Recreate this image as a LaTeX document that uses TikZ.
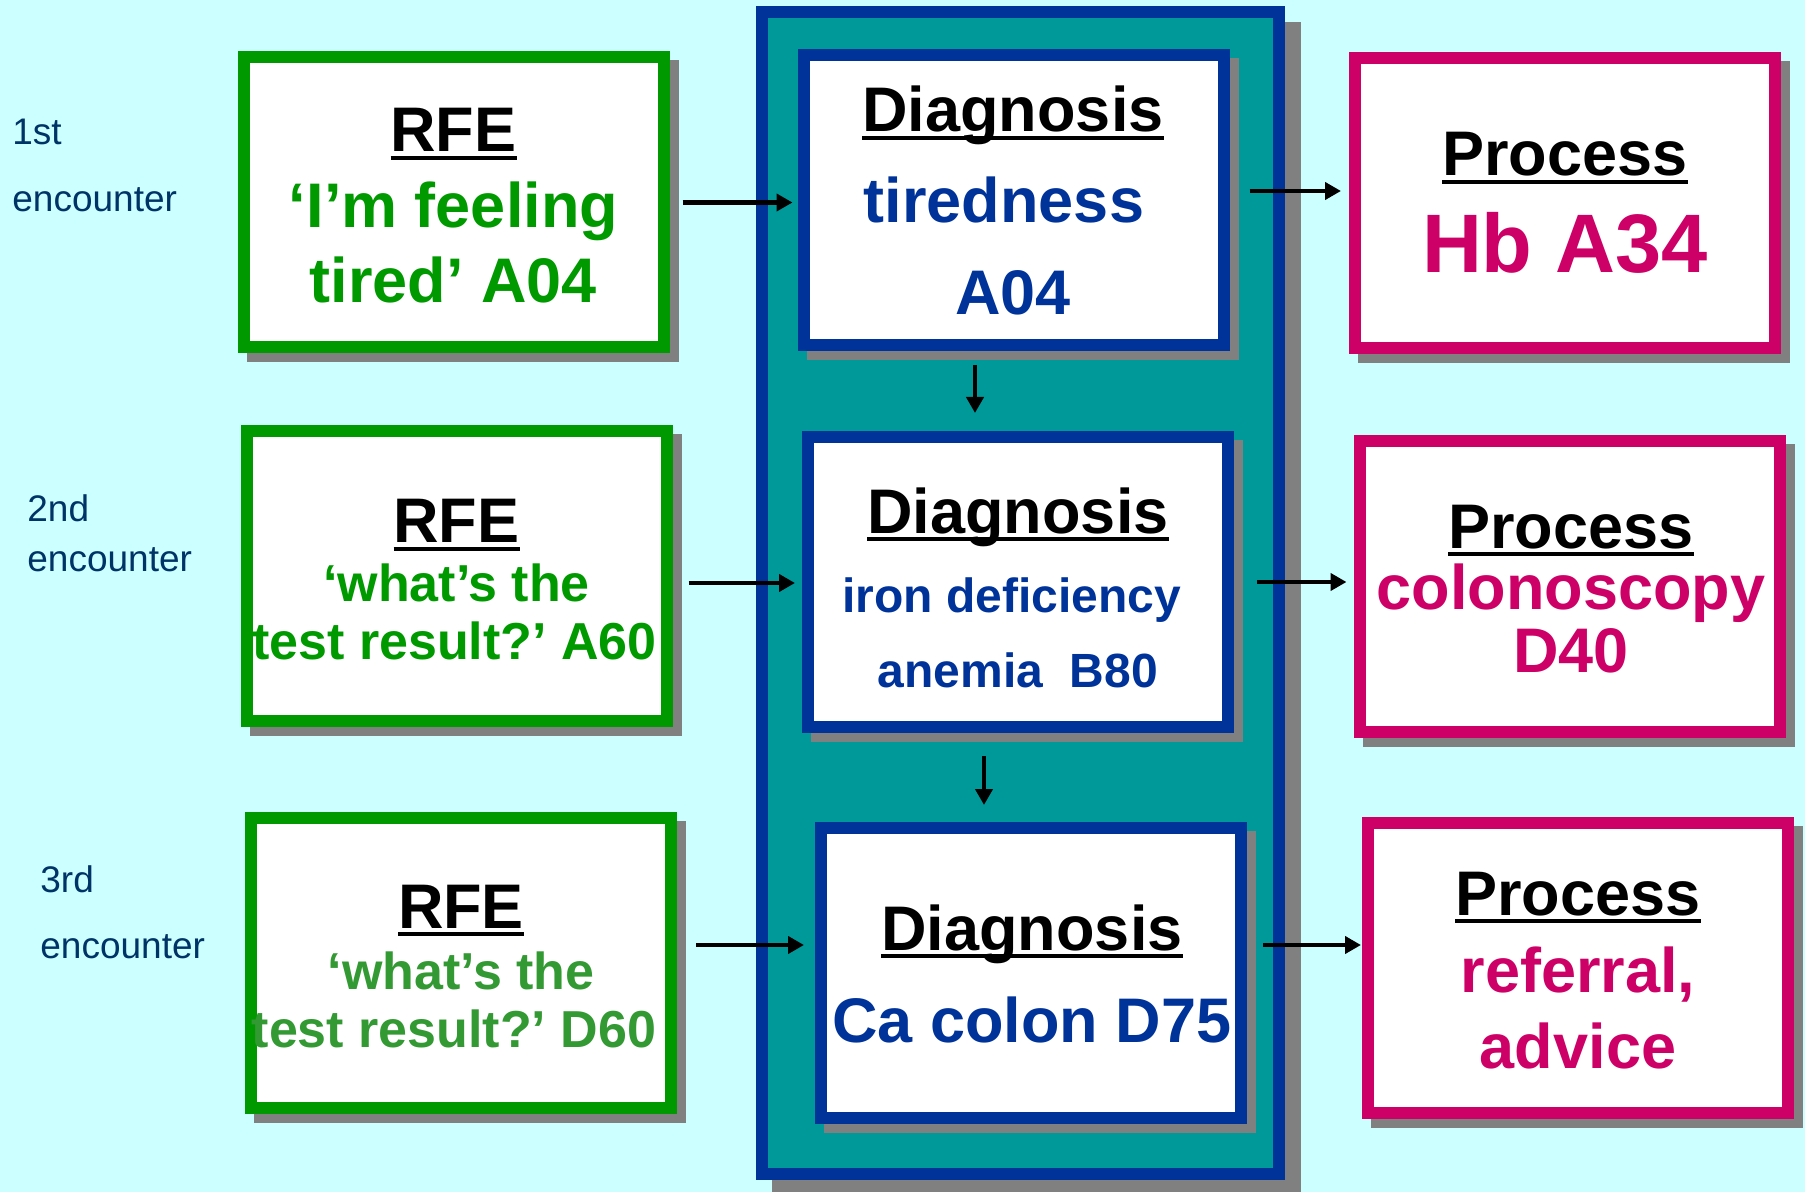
\documentclass[tikz,border=0pt]{standalone}
\usepackage{fontspec}
\setmainfont{Liberation Sans}
\usetikzlibrary{arrows.meta}
\definecolor{cBg}{HTML}{CCFFFF}
\definecolor{cGreen}{HTML}{009900}
\definecolor{cGreenB}{HTML}{339933}
\definecolor{cBlue}{HTML}{003399}
\definecolor{cTeal}{HTML}{009999}
\definecolor{cMag}{HTML}{CC0066}
\definecolor{cShadow}{HTML}{808080}
\definecolor{cNavy}{HTML}{003366}
\newsavebox\ulbox
\newcommand\myul[1]{\sbox\ulbox{#1}\rlap{\rule[-4pt]{\wd\ulbox}{2pt}}\usebox\ulbox}
\newcommand\myfs[1]{\fontsize{#1}{#1}\selectfont}
\frenchspacing
\begin{document}
\begin{tikzpicture}[x=0.5pt,y=-0.5pt,
  box/.style={rectangle, line width=6pt, fill=white, minimum width=210pt,
    minimum height=145pt, inner sep=0pt,
    preaction={fill=cShadow, draw=cShadow, transform canvas={xshift=4.5pt,yshift=-4.5pt}}},
  rfebox/.style={box, draw=cGreen},
  dgbox/.style={box, draw=cBlue},
  prbox/.style={box, draw=cMag},
  ttl/.style={anchor=base, inner sep=0pt, font=\myfs{31.5pt}\bfseries, text=black},
  body/.style={anchor=base, inner sep=0pt},
  lbl/.style={anchor=base west, inner sep=0pt, text=cNavy, font=\myfs{18.5pt}},
  arr/.style={line width=2.2pt, -{Triangle[length=8pt,width=8.5pt]}}
]
\fill[cBg] (0,0) rectangle (1805,1192);
\useasboundingbox (0,0) rectangle (1805,1192);

% central panel
\node[rectangle, draw=cBlue, fill=cTeal, line width=6pt, minimum width=258.5pt,
  minimum height=581pt, inner sep=0pt,
  preaction={fill=cShadow, draw=cShadow, transform canvas={xshift=8pt,yshift=-8pt}}]
  (panel) at (1020.5,593) {};

% boxes
\node[rfebox] (r1) at (453.5,202.5) {};
\node[rfebox] (r2) at (456.5,576) {};
\node[rfebox] (r3) at (461,962.5) {};
\node[dgbox] (d1) at (1013.5,200) {};
\node[dgbox] (d2) at (1018,582) {};
\node[dgbox] (d3) at (1031,973) {};
\node[prbox] (p1) at (1565,203) {};
\node[prbox] (p2) at (1569.5,586.5) {};
\node[prbox] (p3) at (1578,968) {};

% left labels
\node[lbl] (l1a) at (12,145) {1st};
\node[lbl] (l1b) at (12,212) {encounter};
\node[lbl] (l2a) at (27,522) {2nd};
\node[lbl] (l2b) at (27,572) {encounter};
\node[lbl] (l3a) at (40,892) {3rd};
\node[lbl] (l3b) at (40,958) {encounter};

% RFE texts
\node[ttl] (r1t) at (453.5,152) {\myul{RFE}};
\node[body, text=cGreen, font=\myfs{31.5pt}\bfseries] (r1a) at (453.5,228) {‘I’m feeling};
\node[body, text=cGreen, font=\myfs{31.5pt}\bfseries] (r1b) at (453.5,303) {tired’ A04};

\node[ttl] (r2t) at (456.5,543) {\myul{RFE}};
\node[body, text=cGreen, font=\myfs{26pt}\bfseries] (r2a) at (456.5,602) {‘what’s the};
\node[body, text=cGreen, font=\myfs{26pt}\bfseries] (r2b) at (454.5,659) {test result?’ A60};

\node[ttl] (r3t) at (461,928) {\myul{RFE}};
\node[body, text=cGreenB, font=\myfs{26pt}\bfseries] (r3a) at (461,989) {‘what’s the};
\node[body, text=cGreenB, font=\myfs{26pt}\bfseries] (r3b) at (454,1047) {test result?’ D60};

% Diagnosis texts
\node[ttl] (d1t) at (1013,132) {\myul{Diagnosis}};
\node[body, text=cBlue, font=\myfs{31.5pt}\bfseries] (d1a) at (1004,223) {tiredness};
\node[body, text=cBlue, font=\myfs{31.5pt}\bfseries] (d1b) at (1013,315) {A04};

\node[ttl] (d2t) at (1018,533) {\myul{Diagnosis}};
\node[body, text=cBlue, font=\myfs{24pt}\bfseries] (d2a) at (1012,612) {iron deficiency};
\node[body, text=cBlue, font=\myfs{24pt}\bfseries] (d2b) at (1018,687) {anemia\ \ B80};

\node[ttl] (d3t) at (1032,950) {\myul{Diagnosis}};
\node[body, text=cBlue, font=\myfs{31.5pt}\bfseries] (d3a) at (1032,1042) {Ca colon D75};

% Process texts
\node[ttl] (p1t) at (1565,176) {\myul{Process}};
\node[body, text=cMag, font=\myfs{41.5pt}\bfseries] (p1a) at (1565,273) {Hb A34};

\node[ttl] (p2t) at (1571,548) {\myul{Process}};
\node[body, text=cMag, font=\myfs{31.5pt}\bfseries] (p2a) at (1571,610) {colonoscopy};
\node[body, text=cMag, font=\myfs{31.5pt}\bfseries] (p2b) at (1571,672) {D40};

\node[ttl] (p3t) at (1578,915) {\myul{Process}};
\node[body, text=cMag, font=\myfs{31.5pt}\bfseries] (p3a) at (1578,992) {referral,};
\node[body, text=cMag, font=\myfs{31.5pt}\bfseries] (p3b) at (1578,1068) {advice};

% arrows
\draw[arr, shorten <=6.5pt, shorten >=2.5pt] (r1.east) -- (r1.east -| d1.west);
\draw[arr, shorten <=10pt, shorten >=4pt] ([yshift=4.5pt]d1.east) -- ([yshift=4.5pt]d1.east -| p1.west);
\draw[arr, shorten <=8pt, shorten >=3.5pt] ([yshift=-3.5pt]r2.east) -- ([yshift=-3.5pt]r2.east -| d2.west);
\draw[arr, shorten <=11.5pt, shorten >=3.5pt] (d2.east) -- (d2.east -| p2.west);
\draw[arr, shorten <=9.5pt, shorten >=5.5pt] ([yshift=8.75pt]r3.east) -- ([yshift=8.75pt]r3.east -| d3.west);
\draw[arr, shorten <=8pt, shorten >=0.5pt] ([yshift=14pt]d3.east) -- ([yshift=14pt]d3.east -| p3.west);
\draw[arr, shorten <=7pt, shorten >=9pt] ([xshift=-19.25pt]d1.south) -- ([xshift=-19.25pt]d1.south |- d2.north);
\draw[arr, shorten <=11.5pt, shorten >=8.5pt] ([xshift=-17pt]d2.south) -- ([xshift=-17pt]d2.south |- d3.north);
\end{tikzpicture}
\end{document}
